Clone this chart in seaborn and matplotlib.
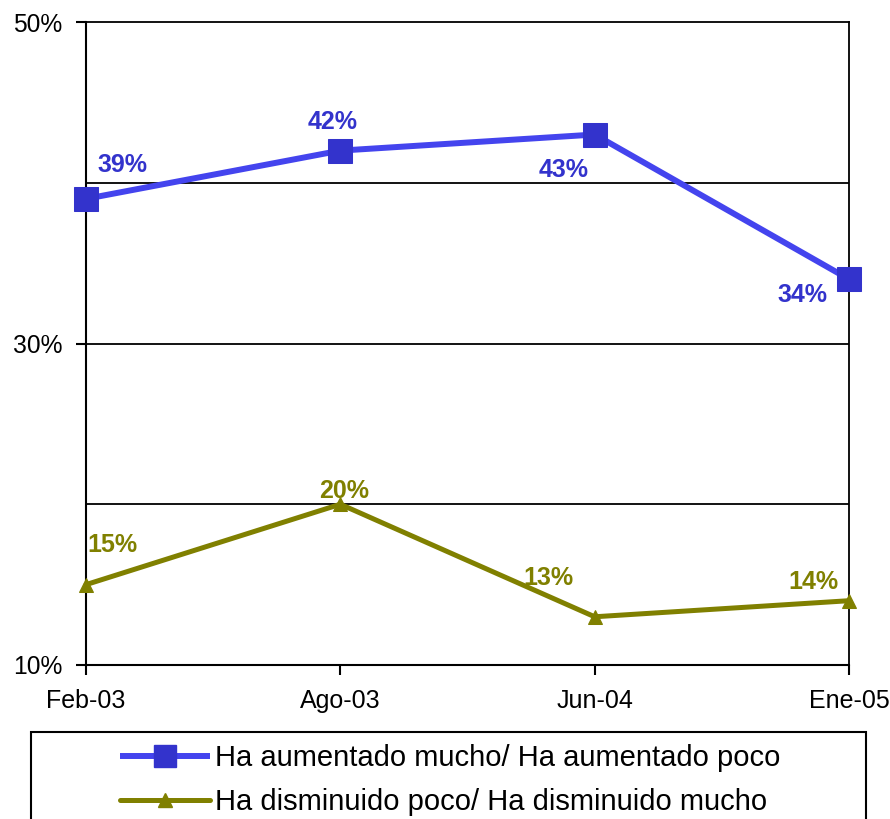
import matplotlib
matplotlib.use("Agg")
import matplotlib.pyplot as plt
import seaborn as sns
import pandas as pd
from matplotlib.patches import Rectangle
from matplotlib.lines import Line2D

fechas = ["Feb-03", "Ago-03", "Jun-04", "Ene-05"]
aumentado = [39, 42, 43, 34]
disminuido = [15, 20, 13, 14]
serie_aum = "Ha aumentado mucho/ Ha aumentado poco"
serie_dis = "Ha disminuido poco/ Ha disminuido mucho"

sns.set_style("white")
plt.rcParams["font.family"] = ["Liberation Sans", "DejaVu Sans"]
plt.rcParams["text.color"] = "black"
plt.rcParams["xtick.color"] = "black"
plt.rcParams["ytick.color"] = "black"

azul_linea = "#4444EE"
azul_marca = "#3333CC"
oliva = "#808000"

df = pd.DataFrame({"x": range(len(fechas)), "aum": aumentado, "dis": disminuido})

fig = plt.figure(figsize=(8.9, 8.19), dpi=100)
ax = fig.add_axes([86 / 890, 1 - 665 / 819, (849 - 86) / 890, (665 - 22) / 819])

sns.lineplot(data=df, x="x", y="aum", ax=ax, color=azul_linea, lw=4.3,
             marker="s", markersize=17.5, markerfacecolor=azul_marca,
             markeredgecolor=azul_marca, clip_on=False, zorder=5)
sns.lineplot(data=df, x="x", y="dis", ax=ax, color=oliva, lw=3.6,
             marker="^", markersize=10.5, markerfacecolor=oliva,
             markeredgecolor=oliva, clip_on=False, zorder=5)

ax.set_xlim(0, 3)
ax.set_ylim(10, 50)
ax.set_xticks(range(len(fechas)))
ax.set_xticklabels(fechas, fontsize=18)
ax.set_yticks([10, 30, 50])
ax.set_yticklabels(["10%", "30%", "50%"], fontsize=17.7)
for g in [20, 30, 40]:
    ax.axhline(g, color="black", lw=1.3, zorder=1)
ax.set_xlabel("")
ax.set_ylabel("")
for s in ax.spines.values():
    s.set_visible(True)
    s.set_color("black")
    s.set_linewidth(1.5)
ax.spines["top"].set_linewidth(1.3)
ax.spines["right"].set_linewidth(1.3)
ax.tick_params(axis="both", direction="out", length=7, width=1.5, color="black",
               left=True, bottom=True, labelcolor="black")
ax.tick_params(axis="x", pad=10)
ax.tick_params(axis="y", pad=10)

# etiquetas de datos (desplazamientos en pixeles)
off_aum = [(36, 34), (-8, 29), (-31, -35), (-47, -16)]
off_dis = [(26, 40), (4, 13), (-46, 39), (-36, 19)]
for i, v in enumerate(aumentado):
    ax.annotate(f"{v}%", (i, v), xytext=(off_aum[i][0] * 0.72, off_aum[i][1] * 0.72),
                textcoords="offset points", ha="center", va="center",
                fontsize=18, fontweight="bold", color=azul_marca, zorder=6)
for i, v in enumerate(disminuido):
    ax.annotate(f"{v}%", (i, v), xytext=(off_dis[i][0] * 0.72, off_dis[i][1] * 0.72),
                textcoords="offset points", ha="center", va="center",
                fontsize=18, fontweight="bold", color=oliva, zorder=6)

# leyenda con marco propio
fig.patches.append(Rectangle((31 / 890, -0.05), (866 - 31) / 890, 1 - 732 / 819 + 0.05,
                             transform=fig.transFigure, fill=False,
                             edgecolor="black", lw=1.5))
handles = [
    Line2D([], [], color=azul_linea, lw=4.3, marker="s", markersize=16,
           markerfacecolor=azul_marca, markeredgecolor=azul_marca,
           solid_capstyle="butt"),
    Line2D([], [], color=oliva, lw=3.6, marker="^", markersize=10,
           markerfacecolor=oliva, markeredgecolor=oliva),
]
fig.legend(handles, [serie_aum, serie_dis], loc="center",
           bbox_to_anchor=(450 / 890, 1 - 780 / 819), frameon=False,
           fontsize=21, handlelength=3.1, handletextpad=0.15, labelspacing=0.55)

fig.savefig("out.png", dpi=100)
